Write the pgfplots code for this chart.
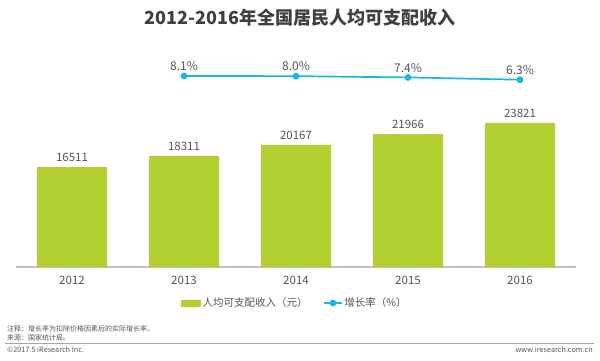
\documentclass[border=0pt]{standalone}
\usepackage{fontspec}
\setmainfont{Noto Sans CJK SC}
\usepackage{pgfplots}
\pgfplotsset{compat=1.18}
\definecolor{bargreen}{HTML}{B3D032}
\definecolor{linecyan}{HTML}{1BB6E6}
\definecolor{txt}{HTML}{555555}
\definecolor{ttl}{HTML}{404040}
\definecolor{axgray}{HTML}{BFBFBF}
\begin{document}
\begin{tikzpicture}[x=1pt,y=1pt]
\useasboundingbox (0,0) rectangle (600,360);
\fill[white] (0,0) rectangle (600,360);
\node[text=ttl,font=\fontsize{18}{18}\selectfont\bfseries] at (300,342) {2012-2016年全国居民人均可支配收入};
\begin{axis}[
  at={(16pt,93pt)}, anchor=south west,
  scale only axis, width=560pt, height=207pt,
  xmin=-0.5, xmax=4.5, ymin=0, ymax=34215,
  axis x line*=bottom, axis y line=none,
  axis line style={color=axgray, line width=1.3pt},
  xtick={0,1,2,3,4}, xticklabels={2012,2013,2014,2015,2016},
  major tick length=0pt,
  xticklabel style={text=txt, font=\fontsize{11.5}{11.5}\selectfont, yshift=-6pt},
  ytick=\empty,
  ybar, bar width=70pt,
  nodes near coords={\pgfmathprintnumber[assume math mode=true,1000 sep={}]{\pgfplotspointmeta}},
  every node near coord/.append style={text=txt, font=\fontsize{11.5}{11.5}\selectfont, yshift=2pt},
]
\addplot[fill=bargreen, draw=none] coordinates {(0,16511) (1,18311) (2,20167) (3,21966) (4,23821)};
\end{axis}
\begin{axis}[
  at={(16pt,93pt)}, anchor=south west,
  scale only axis, width=560pt, height=207pt,
  xmin=-0.5, xmax=4.5, ymin=-82.9, ymax=15.7,
  hide axis,
  nodes near coords={\pgfmathprintnumber[assume math mode=true,fixed,precision=1,zerofill]{\pgfplotspointmeta}\%},
  every node near coord/.append style={text=txt, font=\fontsize{12}{12}\selectfont, yshift=1pt},
  legend columns=2,
  legend style={at={(0.498,-0.174)}, anchor=center, draw=none, fill=none,
    font=\fontsize{10.5}{10.5}\selectfont, text=txt,
    /tikz/every even column/.append style={column sep=14pt}},
]
\addlegendimage{legend image code/.code={\fill[bargreen] (0pt,-3pt) rectangle (19pt,3pt);}}
\addlegendentry{人均可支配收入（元）}
\addplot[color=linecyan, line width=1.7pt, mark=*, mark size=2.5pt, mark options={fill=linecyan, draw=linecyan}] coordinates {(1,8.1) (2,8.0) (3,7.4) (4,6.3)};
\addlegendentry{增长率（\%）}
\end{axis}
\node[anchor=west, text=txt, font=\fontsize{7}{7}\selectfont, inner sep=0pt] at (7,31) {注释：增长率为扣除价格因素后的实际增长率。};
\node[anchor=west, text=txt, font=\fontsize{7}{7}\selectfont, inner sep=0pt] at (7,22.3) {来源：国家统计局。};
\draw[color=gray!70, line width=0.8pt] (5,16.7) -- (594,16.7);
\node[anchor=west, text=txt, font=\fontsize{7.3}{7.3}\selectfont, inner sep=0pt] at (7,10.7) {©2017.5 iResearch Inc.};
\node[anchor=east, text=txt, font=\fontsize{7.3}{7.3}\selectfont, inner sep=0pt] at (593,10) {www.iresearch.com.cn};
\end{tikzpicture}
\end{document}
